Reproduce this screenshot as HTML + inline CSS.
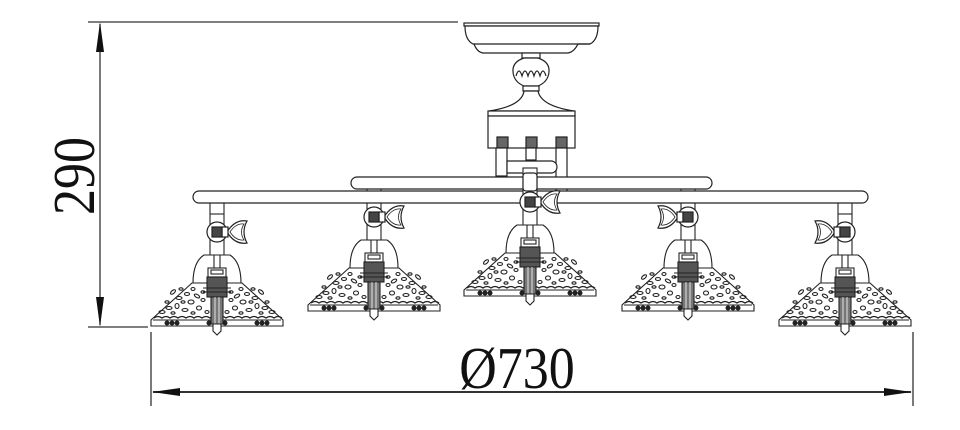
<!DOCTYPE html>
<html><head><meta charset="utf-8"><style>
html,body{margin:0;padding:0;background:#fff;}
svg{display:block;}
</style></head><body>
<svg width="960" height="430" viewBox="0 0 960 430" xmlns="http://www.w3.org/2000/svg">
<defs>
<g id="pat" fill="none" stroke="#222" stroke-width="1.1">
    <ellipse cx="-44" cy="292" rx="3" ry="1.5" transform="rotate(-40 -44 292)"/>
    <ellipse cx="-38" cy="298" rx="3" ry="1.5"/><ellipse cx="-30" cy="294" rx="2.5" ry="1.5"/>
    <ellipse cx="-26" cy="302" rx="3" ry="2"/><ellipse cx="-20" cy="296" rx="3" ry="1.5" transform="rotate(30 -20 296)"/>
    <ellipse cx="-48" cy="308" rx="3" ry="1.5"/><ellipse cx="-40" cy="306" rx="2" ry="2.5"/>
    <ellipse cx="-32" cy="310" rx="3" ry="1.5"/><ellipse cx="-18" cy="308" rx="2.5" ry="2"/>
    <ellipse cx="-14" cy="300" rx="2" ry="1.5"/><ellipse cx="-55" cy="312" rx="3" ry="1.5"/>
    <ellipse cx="-24" cy="289" rx="2" ry="1.5"/><ellipse cx="-10" cy="312" rx="2" ry="1.5"/>
    <ellipse cx="-34" cy="302" rx="2" ry="1.2"/><ellipse cx="-44" cy="313" rx="2" ry="1.2"/>
    <ellipse cx="-24" cy="313" rx="2" ry="1.2"/><ellipse cx="-36" cy="289" rx="2" ry="1.2"/>
    <ellipse cx="-50" cy="302" rx="2" ry="1.2"/><ellipse cx="-14" cy="292" rx="2" ry="1.2"/>
</g>
<g id="lampbody" fill="#fff" stroke="#222" stroke-width="1.1">
  <rect x="-7" y="198" width="14" height="62"/>
  <line x1="-7" y1="214" x2="7" y2="214"/>
  <path d="M-13 255 Q-24 262 -24 283 L24 283 Q24 262 13 255 Z"/>
  <line x1="-3" y1="255" x2="-3" y2="272"/>
  <line x1="3" y1="255" x2="3" y2="272"/>
  <path d="M-25 283 L25 283 L66 320 L66 326 L-66 326 L-66 320 Z"/>
  <line x1="-64" y1="320" x2="64" y2="320"/>
  <use href="#pat"/>
  <g transform="scale(-1,1)"><use href="#pat"/></g>
  <path fill="none" stroke-width="1.3" d="M-63 318 q4 -3 8 0 q4 -3 8 0 q4 -3 8 0 q4 -3 8 0 q4 -3 8 0 q4 -3 8 0 q4 -3 8 0 q4 -3 8 0 q4 -3 8 0 q4 -3 8 0 q4 -3 8 0 q4 -3 8 0 q4 -3 8 0 q4 -3 8 0 q4 -3 8 0 q4 -3 8 0"/>
  <g fill="#222" stroke="none">
    <ellipse cx="-50" cy="323" rx="2.5" ry="2.5"/><ellipse cx="-45" cy="323" rx="2.5" ry="2.5"/><ellipse cx="-40" cy="323" rx="2.5" ry="2.5"/>
    <ellipse cx="40" cy="323" rx="2.5" ry="2.5"/><ellipse cx="45" cy="323" rx="2.5" ry="2.5"/><ellipse cx="50" cy="323" rx="2.5" ry="2.5"/>
    <ellipse cx="-8" cy="323" rx="2.5" ry="2.5"/><ellipse cx="8" cy="323" rx="2.5" ry="2.5"/>
  </g>
  <rect x="-9" y="268" width="18" height="9"/>
  <rect x="-6" y="270" width="12" height="4"/>
  <rect x="-10" y="277" width="20" height="20" fill="#555"/>
  <line x1="-14" y1="288" x2="14" y2="288"/>
  <line x1="-14" y1="292" x2="14" y2="292"/>
  <rect x="-6" y="297" width="12" height="27" fill="#777"/>
  <line x1="-2" y1="297" x2="-2" y2="324" stroke="#fff" stroke-width="0.8"/>
  <line x1="2" y1="297" x2="2" y2="324" stroke="#fff" stroke-width="0.8"/>
  <path d="M-4 324 L4 324 L4 331 L0 335 L-4 331 Z"/>
</g>
<g id="wing" fill="#fff" stroke="#222" stroke-width="1.2">
  <circle cx="0" cy="232" r="10"/>
  <path d="M10 232 Q18 219 30 221 Q24 232 30 243 Q18 245 10 232 Z"/>
  <path d="M13 232 Q19 223 27 224 Q22 232 27 240 Q19 241 13 232 Z" fill="none" stroke-width="0.8"/>
  <rect x="5" y="227" width="6" height="10"/>
  <rect x="-5" y="227" width="10" height="10" fill="#444"/>
</g>
</defs>

<g stroke="#333" stroke-width="1.3" fill="none">
  <line x1="88" y1="22" x2="458" y2="22"/>
  <line x1="88" y1="327" x2="148" y2="327"/>
  <line x1="100" y1="24" x2="100" y2="325"/>
  <line x1="151" y1="332" x2="151" y2="406"/>
  <line x1="913" y1="332" x2="913" y2="406"/>
  <line x1="153" y1="392" x2="911" y2="392" stroke-width="2"/>
</g>
<g fill="#111">
  <path d="M100 22 L96 52 L104 52 Z"/>
  <path d="M100 327 L96 297 L104 297 Z"/>
  <path d="M152 392 L180 388 L180 396 Z"/>
  <path d="M912 392 L884 388 L884 396 Z"/>
</g>
<text transform="translate(94,176) rotate(-90) scale(1,1.15)" text-anchor="middle" font-family="Liberation Serif, serif" font-size="52" fill="#111">290</text>
<text transform="translate(517,388) scale(1,1.15)" text-anchor="middle" font-family="Liberation Serif, serif" font-size="52" fill="#111">Ø730</text>

<g transform="translate(217,0)"><use href="#lampbody"/><use href="#wing"/></g>
<g transform="translate(374,-15)"><use href="#lampbody"/><use href="#wing"/></g>
<g transform="translate(845,0)"><use href="#lampbody"/><g transform="scale(-1,1)"><use href="#wing"/></g></g>
<g transform="translate(688,-15)"><use href="#lampbody"/><g transform="scale(-1,1)"><use href="#wing"/></g></g>

<g fill="#fff" stroke="#222" stroke-width="1.2">
  <rect x="464" y="23" width="135" height="3"/>
  <path d="M465 26 L598 26 Q598 40 590 44 L578 44 Q574 52 568 53 L483 53 Q477 52 474 44 L473 44 Q465 40 465 26 Z"/>
  <line x1="474" y1="44" x2="590" y2="44"/>
  <rect x="522" y="53" width="18" height="5"/>
  <path d="M524 58 Q512 62 513 72 Q514 82 524 86 L538 86 Q548 82 549 72 Q550 62 538 58 Z"/>
  <path d="M516 76 q3 -10 6 0 q3 -10 6 0 q3 -10 6 0 q3 -10 6 0 q3 -10 6 0" fill="none"/>
  <rect x="523" y="86" width="16" height="5"/>
  <path d="M524 91 Q522 106 489 111 L574 111 Q541 106 538 91 Z"/>
  <rect x="488" y="111" width="87" height="5"/>
  <rect x="488" y="116" width="87" height="32"/>
  <rect x="497" y="137" width="11" height="11" fill="#666"/>
  <rect x="526" y="137" width="11" height="11" fill="#666"/>
  <rect x="556" y="137" width="11" height="11" fill="#666"/>
  <rect x="496" y="148" width="11" height="28"/>
  <rect x="526" y="148" width="10" height="12"/>
  <rect x="556" y="148" width="11" height="45"/>
  <path d="M507 161 L551 161 A6 6 0 0 1 551 173 L507 173 Z"/>
  <rect x="351" y="177" width="361" height="12" rx="6"/>
  <rect x="193" y="191" width="675" height="12" rx="6"/>
</g>

<g transform="translate(530,-30)"><use href="#lampbody"/><use href="#wing"/></g>
<rect x="523" y="173" width="14" height="18" rx="3" fill="#fff" stroke="#222" stroke-width="1.2"/>
</svg>
</body></html>
